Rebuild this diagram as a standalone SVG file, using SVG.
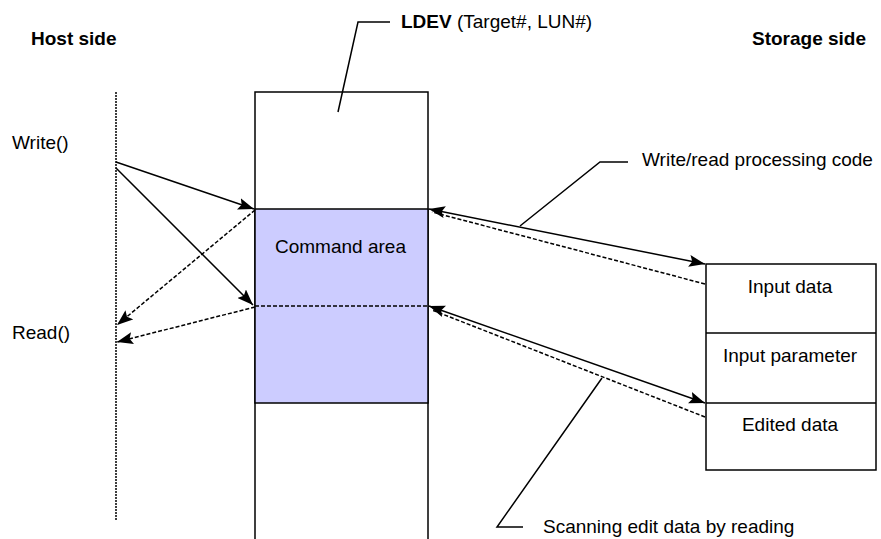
<svg xmlns="http://www.w3.org/2000/svg" width="881" height="539" viewBox="0 0 881 539">
<defs>
<style>
text{font-family:"Liberation Sans",Arial,sans-serif;font-size:19px;fill:#000}
.b{font-weight:bold}
.box{fill:#fff;stroke:#000;stroke-width:1.5}
.ln{fill:none;stroke:#000;stroke-width:1.5}
.dl{fill:none;stroke:#000;stroke-width:1.5;stroke-dasharray:4 2}
.dot{fill:none;stroke:#000;stroke-width:1.5;stroke-dasharray:2 1}
</style>
<marker id="ah" viewBox="0 0 16 12" refX="16" refY="6" markerWidth="16" markerHeight="12" markerUnits="userSpaceOnUse" orient="auto-start-reverse">
<path d="M0,0 L16,6 L0,12 L3,6 z" fill="#000"/>
</marker>
</defs>
<rect width="881" height="539" fill="#fff"/>
<text class="b" x="31" y="45">Host side</text>
<text class="b" x="752" y="45">Storage side</text>
<text x="12" y="149">Write()</text>
<text x="12" y="339">Read()</text>
<line class="dot" x1="116" y1="92" x2="116" y2="520"/>
<g id="ldev">
<rect class="box" x="255" y="92" width="173" height="460"/>
<rect x="255" y="209" width="173" height="194" fill="#ccccff" stroke="#000" stroke-width="1.5"/>
<line class="dl" x1="255" y1="306" x2="428" y2="306"/>
<text x="275" y="253">Command area</text>
</g>
<g id="ldev-label">
<polyline class="ln" points="338,112 358,22 390,22"/>
<text x="401" y="28"><tspan class="b">LDEV</tspan> (Target#, LUN#)</text>
</g>
<g id="storage">
<rect class="box" x="706" y="264" width="170" height="206"/>
<line class="ln" x1="706" y1="333" x2="876" y2="333"/>
<line class="ln" x1="706" y1="403" x2="876" y2="403"/>
<text x="790" y="293" text-anchor="middle">Input data</text>
<text x="790" y="362" text-anchor="middle">Input parameter</text>
<text x="790" y="431" text-anchor="middle">Edited data</text>
</g>
<g id="labels">
<polyline class="ln" points="520,226 600,162 628,162"/>
<text x="642" y="166">Write/read processing code</text>
<polyline class="ln" points="602,378 497,527 523,527"/>
<text x="543" y="533">Scanning edit data by reading</text>
</g>
<g id="connectors">
<line class="ln" x1="116" y1="162" x2="254" y2="209" marker-end="url(#ah)"/>
<line class="ln" x1="116" y1="168" x2="253" y2="305" marker-end="url(#ah)"/>
<line class="dl" x1="255" y1="210" x2="117" y2="325" marker-end="url(#ah)"/>
<line class="dl" x1="255" y1="307" x2="117" y2="342" marker-end="url(#ah)"/>
<line class="ln" x1="429" y1="209" x2="705" y2="264" marker-start="url(#ah)" marker-end="url(#ah)"/>
<line class="dl" x1="705" y1="284" x2="432" y2="212"/>
<line class="ln" x1="429" y1="306" x2="705" y2="403" marker-start="url(#ah)" marker-end="url(#ah)"/>
<line class="dl" x1="705" y1="417" x2="432" y2="310"/>
</g>
</svg>
